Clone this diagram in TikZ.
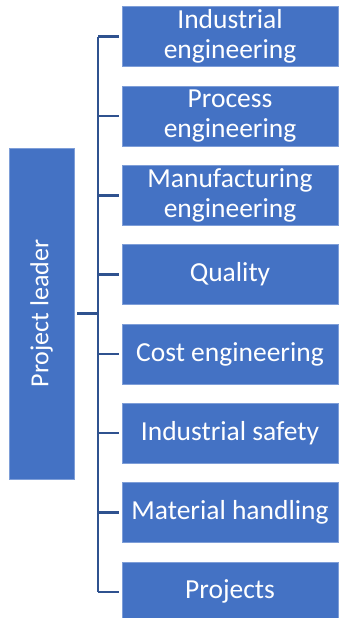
\documentclass[tikz,border=0pt]{standalone}
\usepackage{fontspec}
\setmainfont{Carlito}
\usepackage{xcolor}
\usepackage{tikz}
\usetikzlibrary{positioning, calc}
\definecolor{orgblue}{HTML}{4472C4}
\definecolor{orgedge}{HTML}{7E9ED8}
\definecolor{orgline}{HTML}{2F528F}
\tikzset{
  unit/.style={rectangle, draw=orgedge, fill=orgblue, line width=0.6pt,
               minimum width=216pt, minimum height=60pt, text width=210pt,
               align=flush center, text=white, inner sep=0pt, outer sep=0pt,
               font=\fontsize{27.5}{30}\selectfont},
  head/.style={rectangle, draw=orgedge, fill=orgblue, line width=0.6pt,
               minimum width=64.7pt, minimum height=331pt, inner sep=0pt,
               outer sep=0pt, text=white, font=\fontsize{26}{30}\selectfont},
  link/.style={draw=orgline, line width=2.4pt},
}
\begin{document}
\begin{tikzpicture}[node distance=19.3pt]
  \useasboundingbox (0,0) rectangle (339pt,-618pt);

  % Nodes
  \node[unit] (indeng) at (230pt,-36.7pt) {Industrial\\engineering};
  \node[unit, below=of indeng] (proceng) {Process\\engineering};
  \node[unit, below=of proceng] (manufeng) {Manufacturing\\engineering};
  \node[unit, below=of manufeng] (quality) {Quality};
  \node[unit, below=of quality] (costeng) {Cost engineering};
  \node[unit, below=of costeng] (safety) {Industrial safety};
  \node[unit, below=of safety] (handling) {Material handling};
  \node[unit, below=of handling] (projects) {Projects};

  \node[head] (leader) at (41.65pt,-313.5pt) {\rotatebox{90}{Project leader}};

  % Edges (trunk line with one branch per unit)
  \coordinate (trunk) at (98pt,0);
  \draw[link] (indeng.west -| trunk) -- (projects.west -| trunk);
  \draw[link, shorten <=3pt] (leader.east) -- (leader.east -| trunk);
  \draw[link, shorten >=3pt] (indeng.west -| trunk) -- (indeng.west);
  \draw[link, shorten >=3pt] (proceng.west -| trunk) -- (proceng.west);
  \draw[link, shorten >=3pt] (manufeng.west -| trunk) -- (manufeng.west);
  \draw[link, shorten >=3pt] (quality.west -| trunk) -- (quality.west);
  \draw[link, shorten >=3pt] (costeng.west -| trunk) -- (costeng.west);
  \draw[link, shorten >=3pt] (safety.west -| trunk) -- (safety.west);
  \draw[link, shorten >=3pt] (handling.west -| trunk) -- (handling.west);
  \draw[link, shorten >=3pt] (projects.west -| trunk) -- (projects.west);

\end{tikzpicture}
\end{document}
